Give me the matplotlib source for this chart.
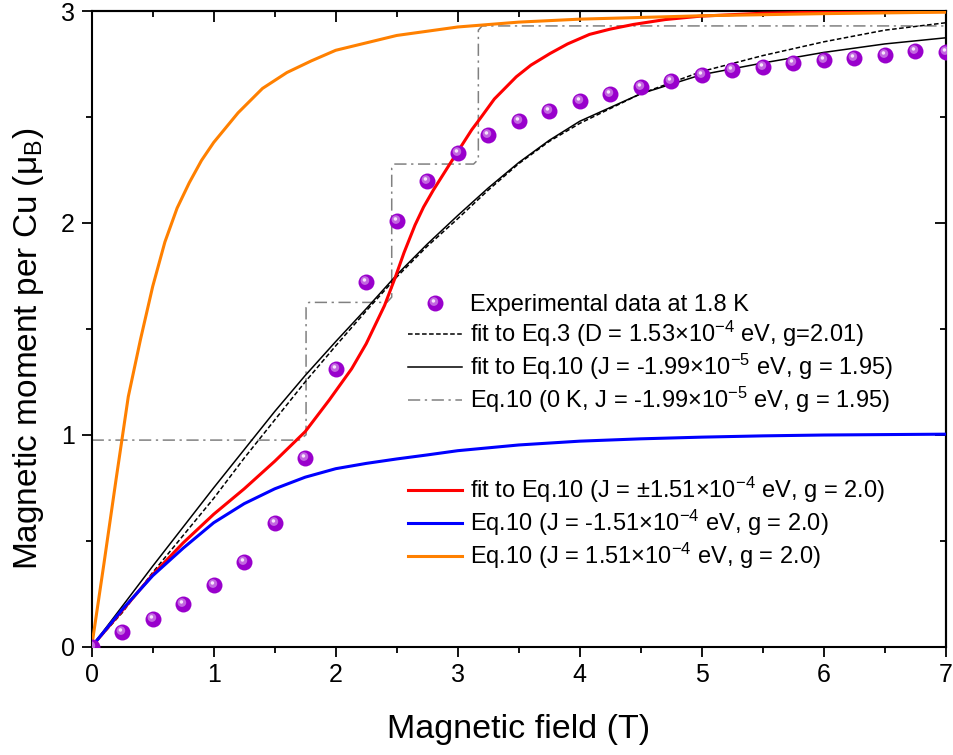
import matplotlib
matplotlib.use("Agg")
import matplotlib.pyplot as plt
from matplotlib.path import Path
from matplotlib.markers import MarkerStyle
from matplotlib.legend_handler import HandlerTuple
import numpy as np

plt.rcParams['font.family'] = ['Liberation Sans', 'DejaVu Sans']
plt.rcParams['mathtext.fontset'] = 'custom'
plt.rcParams['mathtext.rm'] = 'Liberation Sans'
plt.rcParams['mathtext.it'] = 'Liberation Sans:italic'

# ---------------- data ----------------
exp_x = [0, 0.25, 0.5, 0.75, 1.0, 1.25, 1.5, 1.75, 2.0, 2.25, 2.5, 2.75, 3.0, 3.25,
         3.5, 3.75, 4.0, 4.25, 4.5, 4.75, 5.0, 5.25, 5.5, 5.75, 6.0, 6.25, 6.5, 6.75, 7.0]
exp_y = [0, 0.07, 0.13, 0.20, 0.29, 0.40, 0.585, 0.89, 1.31, 1.72, 2.01, 2.20, 2.33, 2.415,
         2.48, 2.53, 2.575, 2.61, 2.64, 2.67, 2.70, 2.72, 2.735, 2.755, 2.77, 2.78, 2.795, 2.81, 2.805]

eq3_x = [0, 0.25, 0.5, 0.75, 1.0, 1.25, 1.5, 1.75, 2.0, 2.25, 2.5, 2.75, 3.0, 3.25, 3.5,
         3.75, 4.0, 4.5, 5.0, 5.5, 6.0, 6.5, 7.0]
eq3_y = [0, 0.16, 0.35, 0.525, 0.70, 0.89, 1.07, 1.25, 1.42, 1.585, 1.745, 1.89, 2.02, 2.155,
         2.28, 2.385, 2.47, 2.61, 2.715, 2.79, 2.855, 2.91, 2.945]

fit10_x = [0, 0.5, 1.0, 1.25, 1.5, 1.75, 2.0, 2.25, 2.5, 2.75, 3.0, 3.25, 3.5, 3.75, 4.0,
           4.5, 5.0, 5.5, 6.0, 6.5, 7.0]
fit10_y = [0, 0.38, 0.75, 0.93, 1.11, 1.28, 1.44, 1.595, 1.755, 1.90, 2.035, 2.165, 2.285,
           2.39, 2.48, 2.61, 2.70, 2.755, 2.805, 2.845, 2.874]

step_x = [0, 1.70, 1.757, 1.757, 1.78, 2.42, 2.459, 2.459, 2.48, 3.13, 3.169, 3.169, 3.20, 7.0]
step_y = [0.975, 0.975, 1.0, 1.60, 1.625, 1.625, 1.65, 2.26, 2.278, 2.278, 2.30, 2.91, 2.93, 2.93]

red_x = [0, 0.25, 0.5, 0.75, 1.0, 1.25, 1.5, 1.75, 1.948, 2.131, 2.25, 2.40, 2.486, 2.56, 2.65,
         2.72, 2.80, 2.937, 3.115, 3.18, 3.3, 3.48, 3.6, 3.757, 3.9, 4.08, 4.25, 4.44, 4.7,
         4.986, 5.5, 6.0, 7.0]
red_y = [0, 0.17, 0.34, 0.49, 0.625, 0.745, 0.875, 1.015, 1.165, 1.312, 1.43, 1.61, 1.74, 1.86, 1.99,
         2.075, 2.155, 2.28, 2.44, 2.49, 2.585, 2.69, 2.745, 2.80, 2.845, 2.89, 2.915, 2.937, 2.96,
         2.976, 2.99, 2.995, 2.998]

blue_x = [0, 0.25, 0.5, 0.75, 1.0, 1.25, 1.5, 1.75, 2.0, 2.25, 2.5, 2.75, 3.0, 3.5, 4.0,
          4.5, 5.0, 5.5, 6.0, 6.5, 7.0]
blue_y = [0, 0.175, 0.335, 0.465, 0.585, 0.675, 0.745, 0.80, 0.84, 0.865, 0.886, 0.905, 0.925,
          0.952, 0.97, 0.981, 0.989, 0.995, 0.999, 1.001, 1.003]

orange_x = [0, 0.1, 0.2, 0.3, 0.4, 0.5, 0.6, 0.7, 0.8, 0.9, 1.0, 1.2, 1.4, 1.6, 1.8, 2.0,
            2.5, 3.0, 3.5, 4.0, 5.0, 6.0, 7.0]
orange_y = [0, 0.39, 0.79, 1.18, 1.45, 1.70, 1.91, 2.07, 2.19, 2.295, 2.38, 2.52, 2.635, 2.71,
            2.765, 2.815, 2.885, 2.925, 2.948, 2.962, 2.978, 2.988, 2.995]

x_ticks = [0, 1, 2, 3, 4, 5, 6, 7]
y_ticks = [0, 1, 2, 3]

lab_exp = 'Experimental data at 1.8 K'
lab_eq3 = 'fit to Eq.3 (D = 1.53×10$^{\\mathrm{-4}}$ eV, g=2.01)'
lab_fit10 = 'fit to Eq.10 (J = -1.99×10$^{\\mathrm{-5}}$ eV, g = 1.95)'
lab_step = 'Eq.10 (0 K, J = -1.99×10$^{\\mathrm{-5}}$ eV, g = 1.95)'
lab_red = 'fit to Eq.10 (J = ±1.51×10$^{\\mathrm{-4}}$ eV, g = 2.0)'
lab_blue = 'Eq.10 (J = -1.51×10$^{\\mathrm{-4}}$ eV, g = 2.0)'
lab_orange = 'Eq.10 (J = 1.51×10$^{\\mathrm{-4}}$ eV, g = 2.0)'

# ---------------- sphere-like markers ----------------
def circ_marker(cx, cy, r):
    c = Path.circle((cx, cy), r)
    verts = np.vstack([[[0.5, 0.5]], [[-0.5, -0.5]], c.vertices])
    codes = np.concatenate([[Path.MOVETO, Path.MOVETO], c.codes])
    return MarkerStyle(Path(verts, codes))

m_base = circ_marker(0, 0, 0.5)
m_mid = circ_marker(-0.1, 0.12, 0.27)
m_hi = circ_marker(-0.13, 0.16, 0.11)
MS = 11.5

fig = plt.figure(figsize=(9.54, 7.55), dpi=100)
ax = fig.add_axes([0.0961, 0.1435, 0.8953, 0.8418])

l_step, = ax.plot(step_x, step_y, color='#808080', lw=1.1, ls=(0, (8, 3, 1.5, 3)), zorder=2)
l_eq3, = ax.plot(eq3_x, eq3_y, color='black', lw=1.1, ls=(0, (3, 1.6)), zorder=3)
l_fit10, = ax.plot(fit10_x, fit10_y, color='black', lw=1.1, zorder=3)
l_red, = ax.plot(red_x, red_y, color='#ff0000', lw=2.2, zorder=4)
l_blue, = ax.plot(blue_x, blue_y, color='#0000ff', lw=2.2, zorder=4)
l_orange, = ax.plot(orange_x, orange_y, color='#ff8000', lw=2.2, zorder=4)

p1, = ax.plot(exp_x, exp_y, ls='none', marker=m_base, ms=MS, mfc='#9900cc', mec='none', zorder=5)
p2, = ax.plot(exp_x, exp_y, ls='none', marker=m_mid, ms=MS, mfc='#c266e0', mec='none', zorder=6)
p3, = ax.plot(exp_x, exp_y, ls='none', marker=m_hi, ms=MS, mfc='#f6e6fb', mec='none', zorder=7)

ax.set_xlim(0, 7)
ax.set_ylim(0, 3)
ax.set_xticks(x_ticks)
ax.set_yticks(y_ticks)
ax.set_xticks(np.arange(0.5, 7, 1.0), minor=True)
ax.set_yticks(np.arange(0.5, 3, 1.0), minor=True)
ax.tick_params(which='major', direction='out', length=7, width=1.3, labelsize=18, pad=5)
ax.tick_params(which='minor', direction='out', length=4, width=1.3)
for s in ax.spines.values():
    s.set_linewidth(1.5)

secx = ax.secondary_xaxis('top')
secx.set_xticks(x_ticks)
secx.set_xticks(np.arange(0.5, 7, 1.0), minor=True)
secx.tick_params(which='major', direction='in', length=8, width=1.3, labeltop=False)
secx.tick_params(which='minor', direction='in', length=4, width=1.3)
secx.spines['top'].set_linewidth(1.5)
secy = ax.secondary_yaxis('right')
secy.set_yticks(y_ticks)
secy.set_yticks(np.arange(0.5, 3, 1.0), minor=True)
secy.tick_params(which='major', direction='in', length=8, width=1.3, labelright=False)
secy.tick_params(which='minor', direction='in', length=4, width=1.3)
secy.spines['right'].set_linewidth(1.5)

ax.set_xlabel('Magnetic field (T)', fontsize=24.5, labelpad=19)
ax.set_ylabel('Magnetic moment per Cu (μ$_\\mathrm{B}$)', fontsize=24)
ax.yaxis.set_label_coords(-0.054, 0.468)

leg_kw = dict(loc='upper left', frameon=False, fontsize=17, handlelength=2.3,
              handletextpad=0.34, labelspacing=0.12, borderaxespad=0, borderpad=0)
leg1 = ax.legend([(p1, p2, p3), l_eq3, l_fit10, l_step],
                 [lab_exp, lab_eq3, lab_fit10, lab_step],
                 handler_map={tuple: HandlerTuple(ndivide=1, pad=0)},
                 bbox_to_anchor=(0.370, 0.5545), **leg_kw)
ax.add_artist(leg1)
ax.legend([l_red, l_blue, l_orange], [lab_red, lab_blue, lab_orange],
          bbox_to_anchor=(0.370, 0.270), **leg_kw)

fig.savefig('out.png', dpi=100)
